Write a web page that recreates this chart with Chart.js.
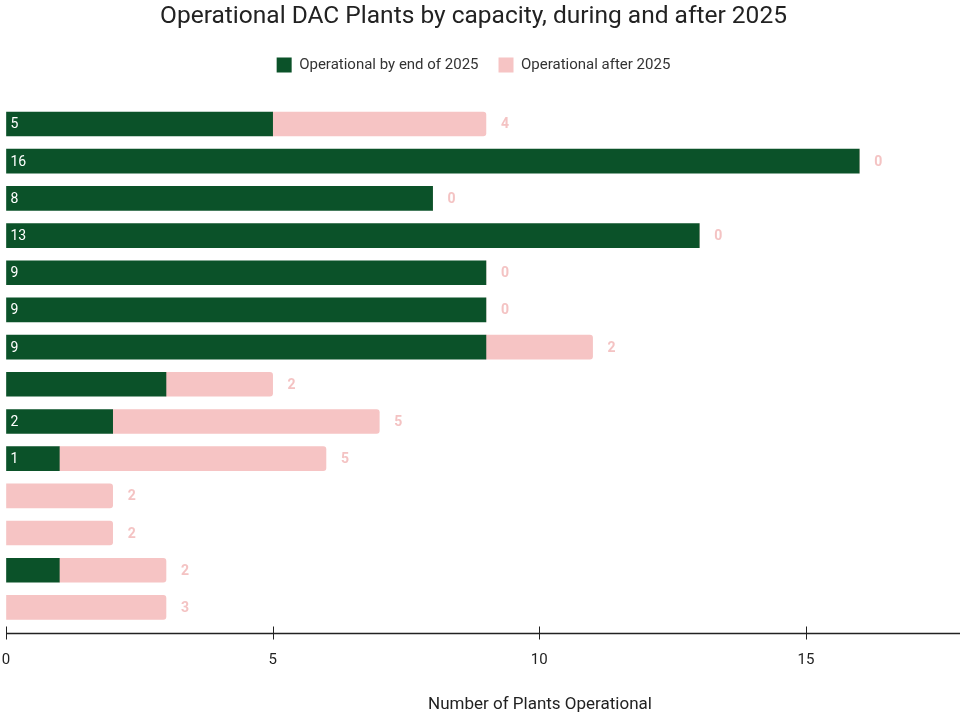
<!DOCTYPE html>
<html>
<head>
<meta charset="utf-8">
<script src="https://cdn.jsdelivr.net/npm/chart.js@4.4.1/dist/chart.umd.min.js"></script>
<style>
  html, body { margin: 0; padding: 0; background: #ffffff; overflow: hidden; }
  #wrap { width: 960px; height: 720px; position: relative; }
</style>
</head>
<body>
<div id="wrap"><canvas id="c" width="960" height="720"></canvas></div>
<script>
// ---- data ----
const categories = ['A', 'B', 'C', 'D', 'E', 'F', 'G', 'H', 'I', 'J', 'K', 'L', 'M', 'N'];
const operationalBy2025 = [5, 16, 8, 13, 9, 9, 9, 3, 2, 1, 0, 0, 1, 0];
const operationalAfter2025 = [4, 0, 0, 0, 0, 0, 2, 2, 5, 5, 2, 2, 2, 3];
const by2025Labels = ['5', '16', '8', '13', '9', '9', '9', '', '2', '1', '', '', '', ''];
const xTicks = [0, 5, 10, 15];
const xAxisTitle = 'Number of Plants Operational';

const DARK = '#0b5229';
const PINK = '#f6c4c4';

const labelPlugin = {
  id: 'barLabels',
  afterDatasetsDraw(chart) {
    const ctx = chart.ctx;
    ctx.save();
    ctx.textBaseline = 'middle';
    const m0 = chart.getDatasetMeta(0);
    const m1 = chart.getDatasetMeta(1);
    ctx.font = '14px Roboto';
    ctx.fillStyle = '#ffffff';
    ctx.textAlign = 'left';
    m0.data.forEach((bar, i) => {
      const t = by2025Labels[i];
      if (t) ctx.fillText(t, bar.base + 4, bar.y + 1);
    });
    ctx.font = 'bold 14px Roboto';
    ctx.fillStyle = '#f4c3c3';
    ctx.textAlign = 'center';
    m1.data.forEach((bar, i) => {
      ctx.fillText(String(operationalAfter2025[i]), bar.x + 19, bar.y + 1);
    });
    ctx.restore();
  }
};

const axisPlugin = {
  id: 'crossTicks',
  afterDraw(chart) {
    const sx = chart.scales.x;
    const ctx = chart.ctx;
    const y = Math.round(chart.chartArea.bottom + 7) + 0.5;
    ctx.save();
    ctx.strokeStyle = '#222222';
    ctx.lineWidth = 1.5;
    ctx.beginPath();
    ctx.moveTo(chart.chartArea.left, y);
    ctx.lineTo(chart.chartArea.right, y);
    ctx.stroke();
    ctx.lineWidth = 1;
    xTicks.forEach(v => {
      const px = Math.round(sx.getPixelForValue(v)) + 0.5;
      ctx.beginPath();
      ctx.moveTo(px, y - 7);
      ctx.lineTo(px, y + 6);
      ctx.stroke();
    });
    // axis title
    ctx.font = '17px Roboto';
    ctx.fillStyle = '#222222';
    ctx.textAlign = 'center';
    ctx.textBaseline = 'middle';
    ctx.fillText(xAxisTitle, 540, 705);
    ctx.restore();
  }
};

const layoutTweaks = {
  id: 'layoutTweaks',
  beforeInit(chart) {
    const lg = chart.legend;
    const orig = lg.fit;
    lg.fit = function () {
      orig.call(this);
      this.height += 23;
    };
  },
  afterLayout(chart) {
    if (chart.titleBlock) chart.titleBlock.right -= 13;
    if (chart.legend) chart.legend.right -= 13;
  }
};

new Chart(document.getElementById('c'), {
  type: 'bar',
  data: {
    labels: categories,
    datasets: [
      {
        label: 'Operational by end of 2025',
        data: operationalBy2025.map(v => (v === 0 ? null : v)),
        backgroundColor: DARK,
        barThickness: 24,
        borderRadius: 0
      },
      {
        label: 'Operational after 2025',
        data: operationalAfter2025,
        backgroundColor: PINK,
        barThickness: 24,
        borderRadius: 3,
        borderSkipped: 'start'
      }
    ]
  },
  options: {
    indexAxis: 'y',
    responsive: false,
    animation: false,
    layout: { padding: { left: 0, right: 0, top: 0, bottom: 43 } },
    scales: {
      x: {
        stacked: true,
        min: 0,
        max: 17.89,
        afterBuildTicks(scale) {
          scale.ticks = xTicks.map(v => ({ value: v }));
        },
        afterFit(scale) {
          scale.paddingLeft = 6;
          scale.paddingRight = 0;
        },
        grid: { drawOnChartArea: false, drawTicks: true, tickLength: 17, color: 'rgba(0,0,0,0)' },
        border: { display: false },
        ticks: { color: '#222222', font: { family: 'Roboto', size: 15 }, padding: 8, maxRotation: 0 },
        title: { display: false }
      },
      y: {
        stacked: true,
        display: false
      }
    },
    plugins: {
      title: {
        display: true,
        text: 'Operational DAC Plants by capacity, during and after 2025',
        color: '#222222',
        font: { family: 'Roboto', size: 24.5, weight: 'normal' },
        padding: { top: 2, bottom: 6 }
      },
      legend: {
        display: true,
        labels: {
          color: '#333333',
          font: { family: 'Roboto', size: 15 },
          boxWidth: 15,
          boxHeight: 15,
          padding: 20
        }
      },
      tooltip: { enabled: false }
    }
  },
  plugins: [labelPlugin, axisPlugin, layoutTweaks]
});
</script>
</body>
</html>
